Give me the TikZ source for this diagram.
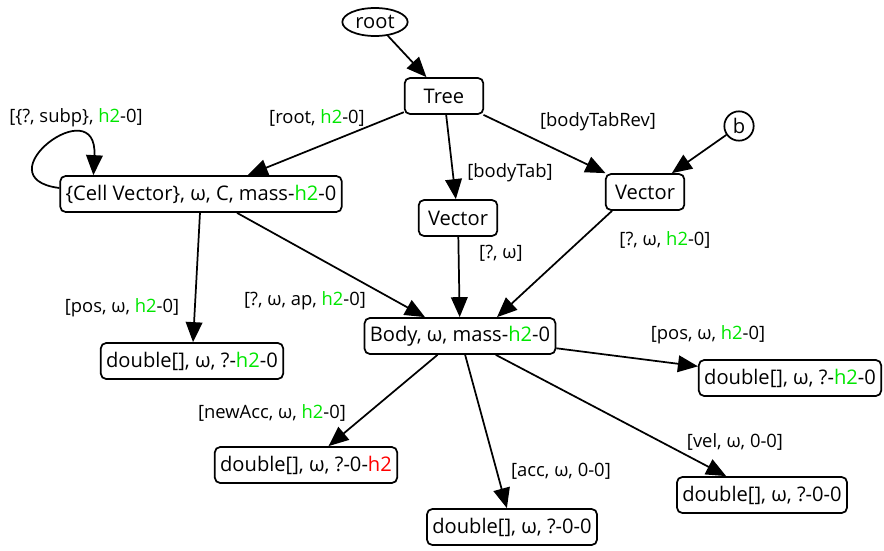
\documentclass[tikz,border=0pt]{standalone}
\usepackage{fontspec}
\setmainfont{Open Sans}
\usepackage{xcolor}
\usetikzlibrary{shapes,arrows.meta,positioning,calc}
\definecolor{hgreen}{HTML}{00E600}
\definecolor{hred}{HTML}{FF0000}
\newcommand{\hgr}{\textcolor{hgreen}{h2}}
\newcommand{\hrd}{\textcolor{hred}{h2}}

\begin{document}
\begin{tikzpicture}[x=0.75pt, y=-0.75pt,
  tbox/.style={rectangle, rounded corners=4pt, draw, line width=1.3pt, minimum height=27pt, minimum width=59pt, inner xsep=4pt, inner ysep=0pt, font=\fontsize{15.1}{17}\selectfont},
  rnode/.style={draw, line width=1.3pt, inner sep=0pt, font=\fontsize{15.1}{17}\selectfont},
  lbl/.style={inner sep=0pt, font=\fontsize{13.8}{15}\selectfont},
  arr/.style={-{Triangle[length=15pt, width=12.5pt]}, line width=1.3pt}
]
\useasboundingbox (0,0) rectangle (884,550);

\node[rnode, ellipse, minimum width=49pt, minimum height=21pt] (root) at (375,22) {root};
\node[tbox] (tree) at (444,96) {Tree};
\node[rnode, circle, minimum size=22pt] (b) at (739,126) {b};
\node[tbox] (cell) at (201,194) {\{Cell Vector\}, ω, C, mass-\hgr-0};
\node[tbox] (vecA) at (458,218) {Vector};
\node[tbox] (vecB) at (645,192) {Vector};
\node[tbox] (body) at (460,336) {Body, ω, mass-\hgr-0};
\node[tbox] (dpos) at (192,361) {double[], ω, ?-\hgr-0};
\node[tbox] (dbpos) at (790,378) {double[], ω, ?-\hgr-0};
\node[tbox] (dnew) at (306,465) {double[], ω, ?-0-\hrd};
\node[tbox] (dacc) at (512,527) {double[], ω, ?-0-0};
\node[tbox] (dvel) at (762,495) {double[], ω, ?-0-0};

\node[lbl] (lsub) at (76,118) {[\{?, subp\}, \hgr-0]};
\node[lbl] (lroot) at (317,118) {[root, \hgr-0]};
\node[lbl] (lrev) at (598,122) {[bodyTabRev]};
\node[lbl] (ltab) at (510,173) {[bodyTab]};
\node[lbl] (lvb) at (665,240) {[?, ω, \hgr-0]};
\node[lbl] (lva) at (501,253) {[?, ω]};
\node[lbl] (lcpos) at (122,308) {[pos, ω, \hgr-0]};
\node[lbl] (lap) at (305,301) {[?, ω, ap, \hgr-0]};
\node[lbl] (lnew) at (272,413) {[newAcc, ω, \hgr-0]};
\node[lbl] (lbpos) at (708,335) {[pos, ω, \hgr-0]};
\node[lbl] (lvel) at (735,442) {[vel, ω, 0-0]};
\node[lbl] (lacc) at (561,471) {[acc, ω, 0-0]};

\draw[arr] (root) -- (tree);
\draw[arr] (tree) -- (cell);
\draw[arr] (tree) -- (vecA);
\draw[arr] (tree) -- (vecB);
\draw[arr] (b) -- (vecB);
\draw[arr] ($(cell.west)+(0,-6)$) .. controls (-20,178) and (98,88) .. ($(cell.north west)+(34,0)$);
\draw[arr] (cell) -- (dpos);
\draw[arr] ($(cell.south)+(36,0)$) -- ($(body.north)+(-35,0)$);
\draw[arr] (vecA) -- (body);
\draw[arr] ($(vecB.south)+(-33,0)$) -- ($(body.north)+(37,0)$);
\draw[arr] (body) -- (dbpos);
\draw[arr] (body) -- (dnew);
\draw[arr] (body) -- (dacc);
\draw[arr] (body) -- (dvel);
\end{tikzpicture}
\end{document}
